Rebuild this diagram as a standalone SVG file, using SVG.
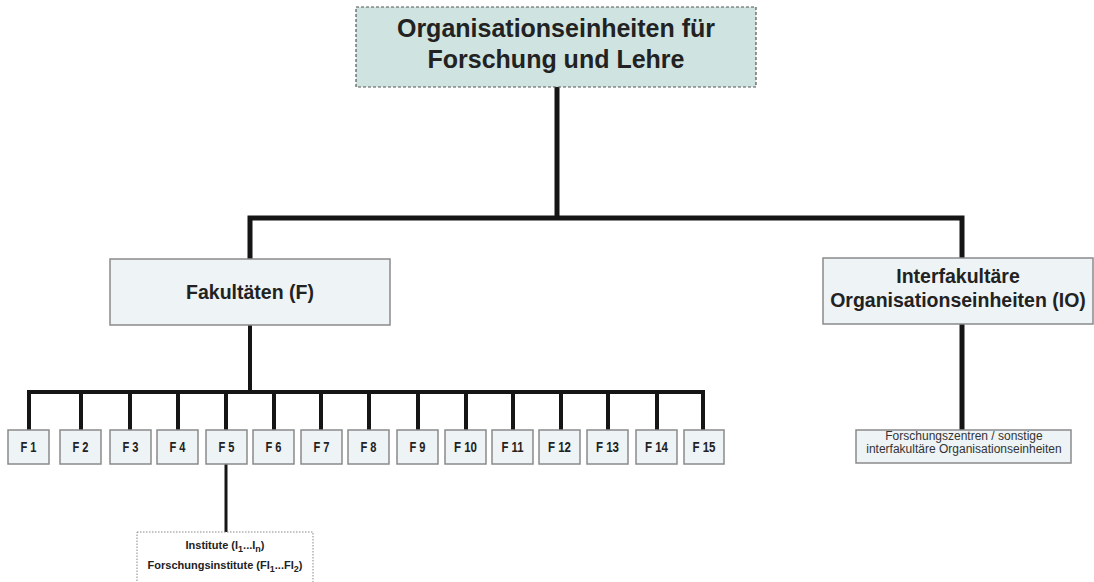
<svg xmlns="http://www.w3.org/2000/svg" width="1094" height="582" viewBox="0 0 1094 582">
<style>
.b{font-family:"Liberation Sans",Arial,sans-serif;font-weight:bold;fill:#222;text-anchor:middle}
.r{font-family:"Liberation Sans",Arial,sans-serif;fill:#333;text-anchor:middle}
.fb{fill:#eef3f5;stroke:#8a8a8a;stroke-width:1.5}
.c{fill:none;stroke:#151515;stroke-linecap:square}
.fl{font-size:14px}
</style>
<rect width="1094" height="582" fill="#fff"/>
<g id="connectors">
<path class="c" stroke-width="5" d="M557 88 V218 M250 259 V218 H962 V258"/>
<path class="c" stroke-width="4" d="M250 325 V392 M29 392 H703"/>
<path class="c" stroke-width="4" d="M29 392 V430 M81 392 V430 M130 392 V430 M178 392 V430 M226 392 V430 M274 392 V430 M321 392 V430 M369 392 V430 M418 392 V430 M466 392 V430 M513 392 V430 M561 392 V430 M608 392 V430 M657 392 V430 M703 392 V430"/>
<path class="c" stroke-width="3" d="M226 464 V532"/>
<path class="c" stroke-width="5" d="M962 324 V430"/>
</g>
<g id="root">
<rect x="356" y="7" width="400" height="80" fill="#cfe4e0" stroke="#555" stroke-width="1.2" stroke-dasharray="3 2"/>
<text class="b" x="556" y="37" font-size="25">Organisationseinheiten für</text>
<text class="b" x="556" y="68" font-size="25">Forschung und Lehre</text>
</g>
<g id="fakultaeten">
<rect class="fb" x="110" y="259" width="280" height="66"/>
<text class="b" x="250" y="299" font-size="19.5">Fakultäten (F)</text>
</g>
<g id="io">
<rect class="fb" x="823" y="258" width="270" height="66"/>
<text class="b" x="958" y="283" font-size="19.5">Interfakultäre</text>
<text class="b" x="958" y="307" font-size="19.5">Organisationseinheiten (IO)</text>
</g>
<g id="f1"><rect class="fb" x="8" y="430" width="41" height="34"/><text class="b fl" x="28.5" y="452" textLength="16" lengthAdjust="spacingAndGlyphs">F 1</text></g>
<g id="f2"><rect class="fb" x="60" y="430" width="41" height="34"/><text class="b fl" x="80.5" y="452" textLength="16" lengthAdjust="spacingAndGlyphs">F 2</text></g>
<g id="f3"><rect class="fb" x="110" y="430" width="41" height="34"/><text class="b fl" x="130.5" y="452" textLength="16" lengthAdjust="spacingAndGlyphs">F 3</text></g>
<g id="f4"><rect class="fb" x="157" y="430" width="41" height="34"/><text class="b fl" x="177.5" y="452" textLength="16" lengthAdjust="spacingAndGlyphs">F 4</text></g>
<g id="f5"><rect class="fb" x="206" y="430" width="41" height="34"/><text class="b fl" x="226.5" y="452" textLength="16" lengthAdjust="spacingAndGlyphs">F 5</text></g>
<g id="f6"><rect class="fb" x="253" y="430" width="41" height="34"/><text class="b fl" x="273.5" y="452" textLength="16" lengthAdjust="spacingAndGlyphs">F 6</text></g>
<g id="f7"><rect class="fb" x="301" y="430" width="41" height="34"/><text class="b fl" x="321.5" y="452" textLength="16" lengthAdjust="spacingAndGlyphs">F 7</text></g>
<g id="f8"><rect class="fb" x="348" y="430" width="41" height="34"/><text class="b fl" x="368.5" y="452" textLength="16" lengthAdjust="spacingAndGlyphs">F 8</text></g>
<g id="f9"><rect class="fb" x="397" y="430" width="41" height="34"/><text class="b fl" x="417.5" y="452" textLength="16" lengthAdjust="spacingAndGlyphs">F 9</text></g>
<g id="f10"><rect class="fb" x="445" y="430" width="41" height="34"/><text class="b fl" x="465.5" y="452" textLength="23" lengthAdjust="spacingAndGlyphs">F 10</text></g>
<g id="f11"><rect class="fb" x="492" y="430" width="41" height="34"/><text class="b fl" x="512.5" y="452" textLength="22" lengthAdjust="spacingAndGlyphs">F 11</text></g>
<g id="f12"><rect class="fb" x="539" y="430" width="41" height="34"/><text class="b fl" x="559.5" y="452" textLength="23" lengthAdjust="spacingAndGlyphs">F 12</text></g>
<g id="f13"><rect class="fb" x="587" y="430" width="41" height="34"/><text class="b fl" x="607.5" y="452" textLength="23" lengthAdjust="spacingAndGlyphs">F 13</text></g>
<g id="f14"><rect class="fb" x="636" y="430" width="41" height="34"/><text class="b fl" x="656.5" y="452" textLength="23" lengthAdjust="spacingAndGlyphs">F 14</text></g>
<g id="f15"><rect class="fb" x="684" y="430" width="40" height="34"/><text class="b fl" x="704" y="452" textLength="23" lengthAdjust="spacingAndGlyphs">F 15</text></g>
<g id="institute">
<rect x="137" y="532" width="176" height="60" fill="#fff" stroke="#888" stroke-width="1" stroke-dasharray="1.5 1.5"/>
<text class="b" x="225" y="549" font-size="11">Institute (I<tspan font-size="9" dy="3">1</tspan><tspan dy="-3">...I</tspan><tspan font-size="9" dy="3">n</tspan><tspan dy="-3">)</tspan></text>
<text class="b" x="225" y="569" font-size="11">Forschungsinstitute (FI<tspan font-size="9" dy="3">1</tspan><tspan dy="-3">...FI</tspan><tspan font-size="9" dy="3">2</tspan><tspan dy="-3">)</tspan></text>
</g>
<g id="forschungszentren">
<rect class="fb" x="856" y="430" width="215" height="33"/>
<text class="r" x="964" y="440" font-size="12">Forschungszentren / sonstige</text>
<text class="r" x="964" y="453" font-size="12">interfakultäre Organisationseinheiten</text>
</g>
</svg>
